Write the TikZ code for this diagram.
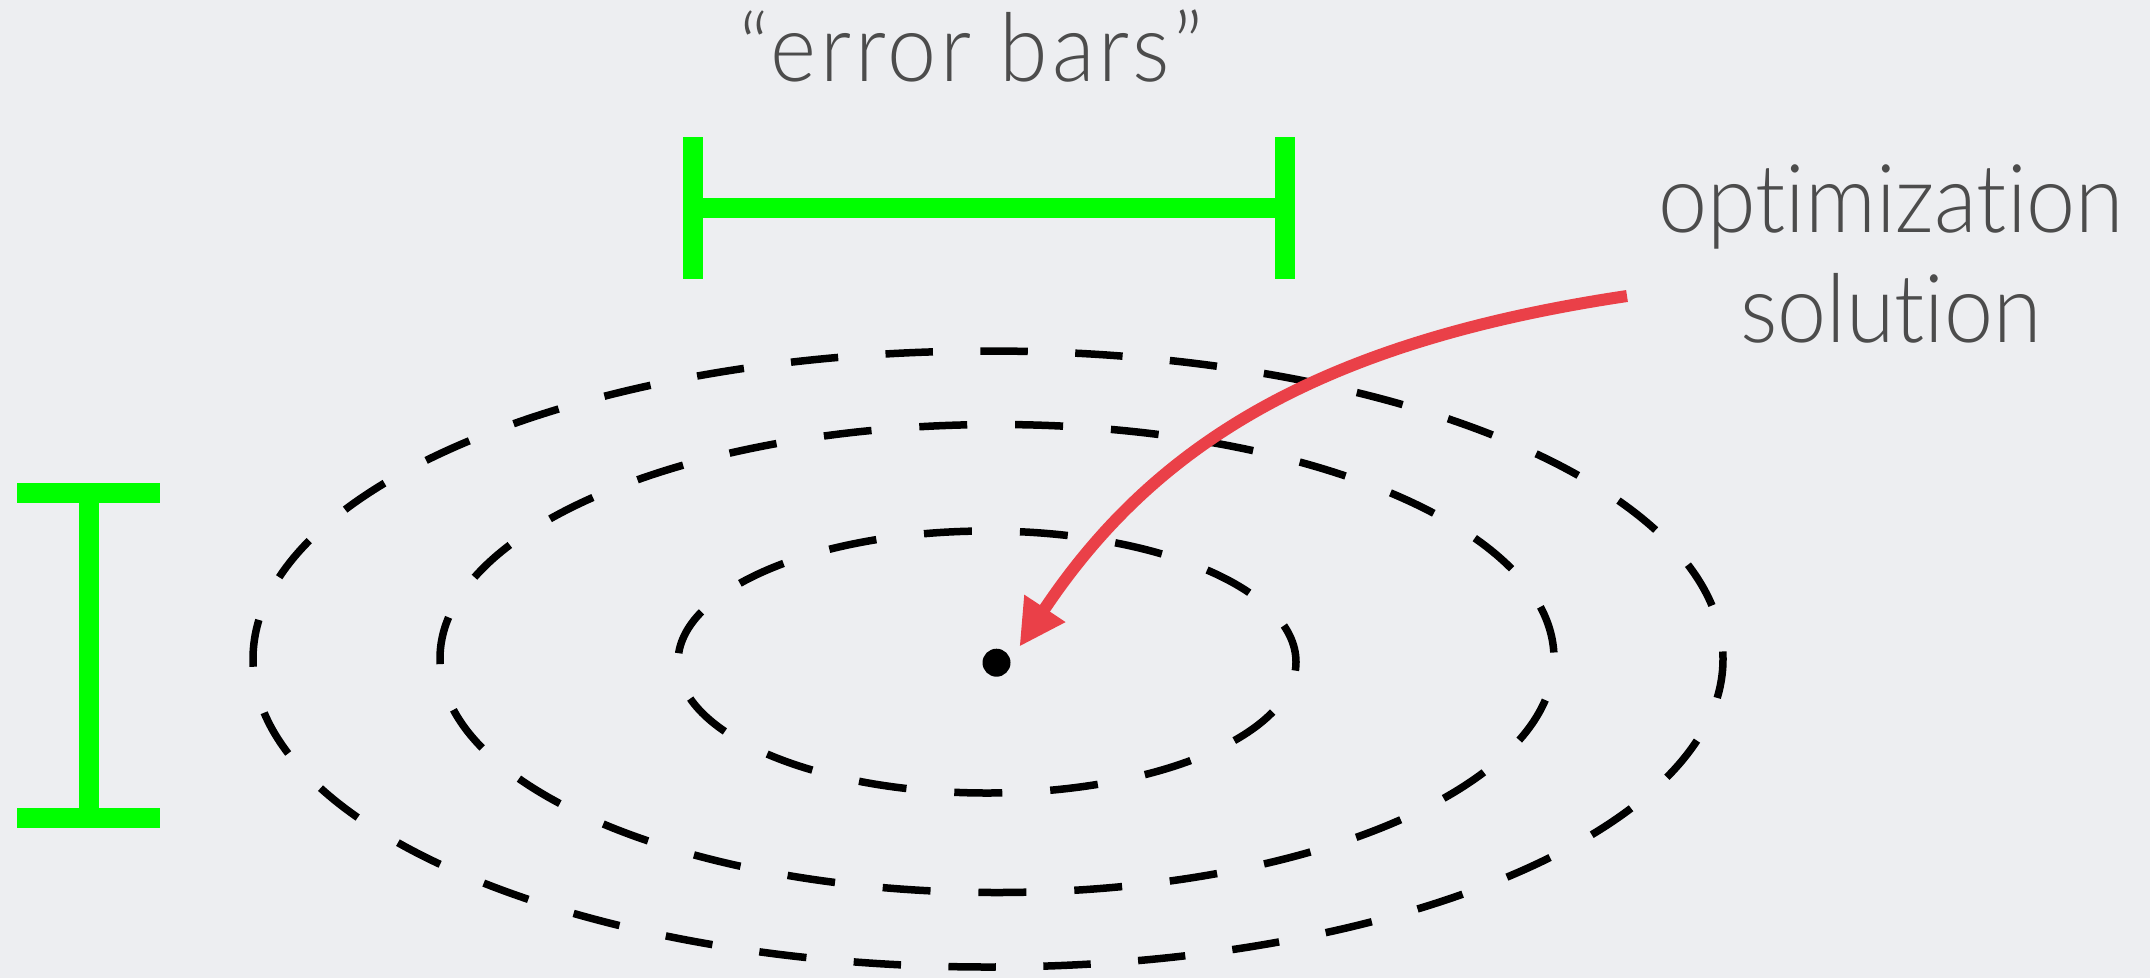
\documentclass[tikz,border=0pt]{standalone}
\usepackage{fontspec}
\setmainfont{Lato Light}[FakeStretch=0.927, Ligatures={TeX,NoCommon}]
\newfontfamily\ebfont{Lato Light}[FakeStretch=0.927, LetterSpace=4, Ligatures={TeX,NoCommon}]
\usetikzlibrary{arrows.meta}
\definecolor{bg}{HTML}{EDEEF1}
\definecolor{txt}{HTML}{4C4C4C}
\definecolor{ebar}{HTML}{00FF00}
\definecolor{arr}{HTML}{EA4048}
\tikzset{
  errbar/.style={draw=ebar, line width=20pt, line cap=butt},
  contour/.style={draw=black, line width=7.5pt, line cap=butt},
  lab/.style={text=txt, font=\fontsize{95}{110}\selectfont, inner sep=0pt, align=center},
  dotnode/.style={circle, fill=black, minimum size=28pt, inner sep=0pt, outer sep=14pt},
  arrowline/.style={draw=arr, line width=12pt, -{Triangle[length=46pt,width=46pt]}}
}
\begin{document}
\begin{tikzpicture}[x=1pt, y=-1pt]
\fill[bg] (0,0) rectangle (2150,978);
\useasboundingbox (0,0) rectangle (2150,978);

% labels
\node[lab, font=\ebfont\fontsize{95}{110}\selectfont, anchor=base] (eb) at (971,81) {“error bars”};
\node[lab, anchor=base] (opt) at (1891,342) {optimization\\solution};

% horizontal error bar
\draw[errbar] (692.5,208) -- (1284.5,208);
\draw[errbar] (692.5,137) -- (692.5,279);
\draw[errbar] (1284.5,137) -- (1284.5,279);

% vertical error bar
\draw[errbar] (88.5,492.5) -- (88.5,817.5);
\draw[errbar] (17,492.5) -- (160,492.5);
\draw[errbar] (17,817.5) -- (160,817.5);

% dashed contours
\draw[contour, dash pattern=on 47.45pt off 47.45pt, dash phase=39.9pt]
  (988,659) ellipse [x radius=735pt, y radius=308pt];
\draw[contour, dash pattern=on 47.95pt off 47.95pt, dash phase=89.9pt]
  (997,658.5) ellipse [x radius=557pt, y radius=234pt];
\draw[contour, dash pattern=on 48pt off 48pt, dash phase=9pt]
  (987,662) ellipse [x radius=309pt, y radius=131pt];

% optimum and arrow
\node[dotnode] (sol) at (996.5,662.7) {};
\coordinate (astart) at (1627,296);
\draw[arrowline] (astart) .. controls (1326,341) and (1157,440) .. (sol.35);
\end{tikzpicture}
\end{document}
